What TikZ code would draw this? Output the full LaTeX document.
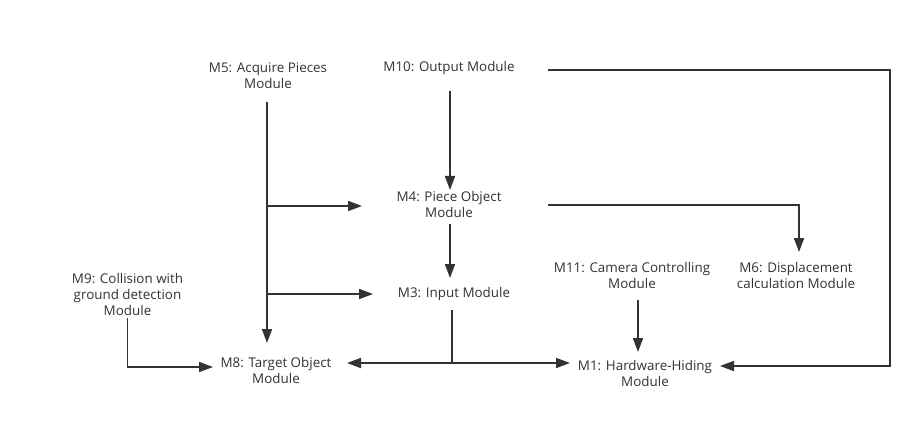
\documentclass[tikz,border=0pt]{standalone}
\usepackage{fontspec}
\setmainfont{Open Sans}
\usetikzlibrary{arrows.meta,calc}
\definecolor{ink}{HTML}{333333}
\tikzset{
  lbl/.style={align=center,inner sep=0pt,text=ink,font=\fontsize{13.4}{16}\selectfont},
  conn/.style={draw=ink,line width=1.8pt},
  arr/.style={conn,-{Triangle[length=14pt,width=10pt]}},
  darr/.style={conn,{Triangle[length=14pt,width=10pt]}-{Triangle[length=14pt,width=10pt]}}
}
\begin{document}
\begin{tikzpicture}[x=1pt,y=-1pt]
\useasboundingbox[fill=white] (0,0) rectangle (924,425);
\node[lbl] (m5) at (268,75.5) {M5: Acquire Pieces\\Module};
\node[lbl] (m10) at (449,68) {M10: Output Module};
\node[lbl] (m4) at (449,204) {M4: Piece Object\\Module};
\node[lbl] (m3) at (454,294) {M3: Input Module};
\node[lbl] (m9) at (127.5,294) {M9: Collision with\\ground detection\\Module};
\node[lbl] (m8) at (276,370) {M8: Target Object\\Module};
\node[lbl] (m11) at (632,275) {M11: Camera Controlling\\Module};
\node[lbl] (m6) at (796,275) {M6: Displacement\\calculation Module};
\node[lbl] (m1) at (645,373) {M1: Hardware-Hiding\\Module};
% corner / junction points
\coordinate (c1) at ($(m10)+(441,2)$);
\coordinate (j1) at ($(m5|-m4)+(-1,2)$);
\coordinate (j2) at ($(m5|-m3)+(-1,0)$);
\coordinate (j3) at ($(m3)+(-2,69)$);
% connectors
\draw[arr] ($(m10)+(99,2)$) -- (c1) |- ($(m1)+(75,-7)$);
\draw[arr] ($(m10)+(1,23)$) -- ($(m4)+(1,-14)$);
\draw[arr] ($(m5)+(-1,27)$) -- ($(m5|-m8)+(-1,-27)$);
\draw[arr] (j1) -- ($(m4)+(-87,2)$);
\draw[arr] (j2) -- ($(m3)+(-81,0)$);
\draw[arr] ($(m4)+(99,1)$) -| ($(m6)+(3,-23)$);
\draw[arr] ($(m4)+(1,20)$) -- ($(m3)+(-4,-16)$);
\draw[conn] ($(m3)+(-2,16)$) -- (j3);
\draw[darr] ($(m8)+(71,-7)$) -- ($(m1)+(-75,-10)$);
\draw[arr] ($(m9)+(0,24)$) |- ($(m8)+(-63,-3)$);
\draw[arr] ($(m11)+(6,25)$) -- ($(m11|-m1)+(6,-21)$);
\end{tikzpicture}
\end{document}
